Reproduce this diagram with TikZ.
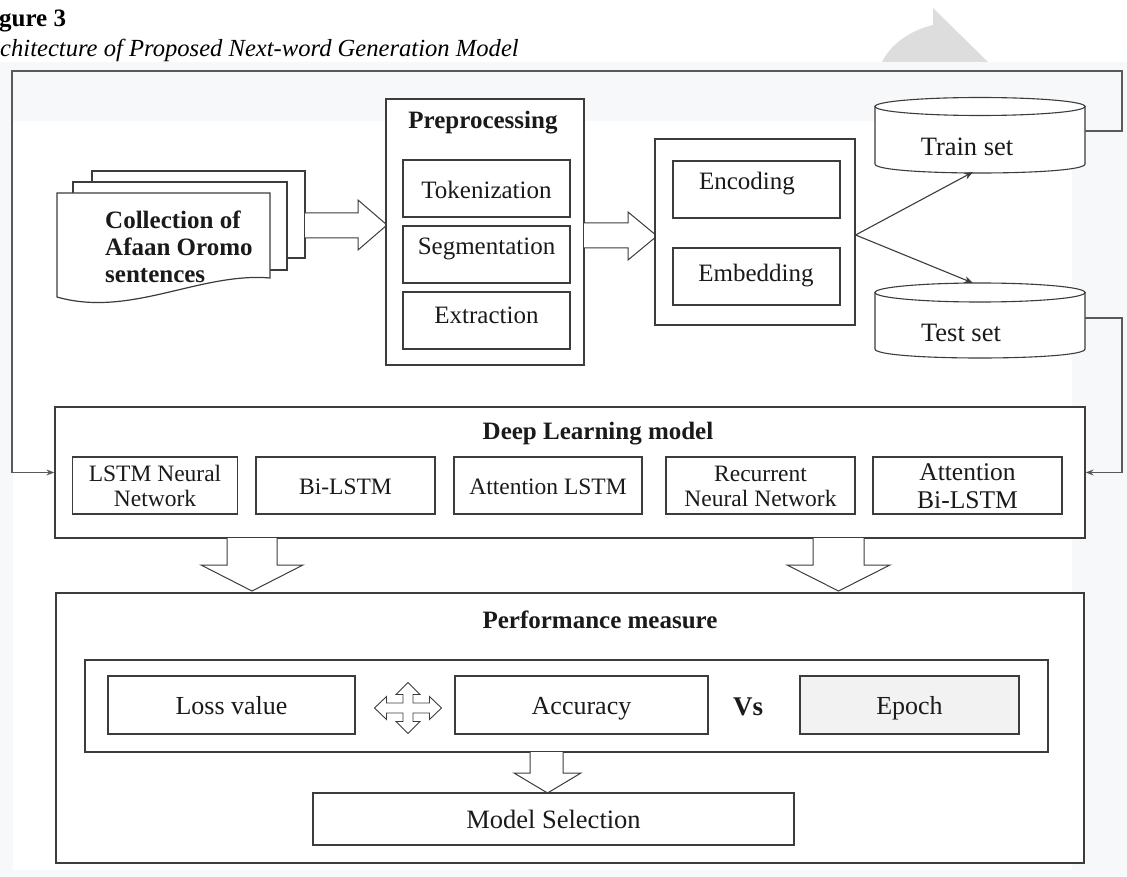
\documentclass[tikz,border=0pt]{standalone}
\usepackage{fontspec}
\setmainfont{Liberation Serif}
\usetikzlibrary{arrows.meta}
\definecolor{panel}{HTML}{F7F8FA}
\definecolor{ln}{HTML}{3C3C3C}
\definecolor{wm}{HTML}{DDDDDD}
\definecolor{epochfill}{HTML}{F2F2F2}
\definecolor{txt}{HTML}{1A1A1A}
\begin{document}
\begin{tikzpicture}[x=1pt,y=-1pt,
  box/.style={draw=ln, line width=1.2pt, fill=white, inner sep=0pt},
  lbl/.style={inner sep=0pt, text=txt, font=\fontsize{25}{27}\selectfont},
  bold/.style={inner sep=0pt, text=txt, font=\fontsize{25}{27}\selectfont\bfseries},
  small/.style={inner sep=0pt, text=txt, align=center, font=\fontsize{23.5}{25}\selectfont},
  big/.style={inner sep=0pt, text=txt, anchor=base, font=\fontsize{26}{28}\selectfont},
  barrow/.style={draw=ln, line width=1pt, fill=white, line join=miter},
  cyl/.style={draw=ln, line width=1.1pt, fill=white},
  conn/.style={draw=ln, line width=1.1pt, -{Stealth[length=9pt,width=7pt]}},
  fb/.style={draw=ln!85, line width=1.4pt, -{Stealth[length=8pt,width=6pt]}},
]
\useasboundingbox (0,0) rectangle (1127,877);
% watermark
\fill[wm] (933,8) -- (988,62) -- (882,62) .. controls (893,40) and (916,29) .. (933,25) -- cycle;
% panel background
\fill[panel] (0,62) rectangle (1127,877);
\fill[white] (13,121) rectangle (1072,870);

% titles
\node[anchor=base west, inner sep=0pt, text=black, font=\fontsize{25}{27}\selectfont\bfseries] (fig) at (-1,27) {gure 3};
\node[anchor=base west, inner sep=0pt, text=black, font=\fontsize{24.6}{27}\selectfont\itshape] (cap) at (0,57) {chitecture of Proposed Next-word Generation Model};

% document stack
\draw[ln, line width=1.2pt, fill=white] (92,171) rectangle (305,258);
\draw[ln, line width=1.2pt, fill=white] (73,182) rectangle (287,270);
\draw[ln, line width=1.2pt, fill=white] (57,193) -- (270,193) -- (270,278) .. controls (200,272) and (130,318) .. (57,297) -- cycle;
\node[bold, anchor=west, align=left] (doc) at (105,247) {Collection of\\Afaan Oromo\\sentences};

% block arrow 1
\draw[barrow] (305,213) -- (358,213) -- (358,200) -- (387,225) -- (358,250) -- (358,238) -- (305,238);

% preprocessing
\node[box, minimum width=198pt, minimum height=266pt] (prep) at (485,232) {};
\node[bold] (preptitle) at (483,123) {Preprocessing};
\node[box, minimum width=167pt, minimum height=57pt] (tok) at (486.5,188.5) {};
\node[lbl] (toktxt) at (486.5,190) {Tokenization};
\node[box, minimum width=167pt, minimum height=57pt] (seg) at (486.5,254.5) {};
\node[lbl] (segtxt) at (486.5,249) {Segmentation};
\node[box, minimum width=167pt, minimum height=57pt] (ext) at (486.5,320.5) {};
\node[lbl] (exttxt) at (486.5,315) {Extraction};

% block arrow 2
\draw[barrow] (584,223) -- (628,223) -- (628,212) -- (657,236) -- (628,260) -- (628,248) -- (584,248);

% encoding / embedding
\node[box, minimum width=200pt, minimum height=186pt] (encbox) at (755,232) {};
\node[box, minimum width=167pt, minimum height=57pt] (enc) at (756.5,189.5) {};
\node[lbl] (enctxt) at (747,184) {Encoding};
\node[box, minimum width=167pt, minimum height=57pt] (emb) at (756.5,276.5) {};
\node[lbl] (embtxt) at (756,276) {Embedding};

% cylinders
\draw[cyl] (875,106.5) -- (875,164) .. controls (875,176) and (1085,176) .. (1085,164) -- (1085,106.5) -- cycle;
\draw[cyl] (980,106.5) ellipse [x radius=105, y radius=9];
\node[lbl, font=\fontsize{26.5}{28}\selectfont] (train) at (967,147) {Train set};
\draw[cyl] (875,292.5) -- (875,349) .. controls (875,361) and (1085,361) .. (1085,349) -- (1085,292.5) -- cycle;
\draw[cyl] (980,292.5) ellipse [x radius=105, y radius=9.5];
\node[lbl, font=\fontsize{26.5}{28}\selectfont] (test) at (961,333) {Test set};

\coordinate (trainB) at (973,172);
\coordinate (testT) at (973,283);
\coordinate (trainR) at (1085,131);
\coordinate (testR) at (1085,318);
\coordinate (railR) at (1122,71);
\coordinate (railL) at (12,71);

\draw[conn] ([yshift=-3pt]encbox.east) -- (trainB);
\draw[conn] ([yshift=-3pt]encbox.east) -- (testT);

% deep learning model
\node[box, minimum width=1030pt, minimum height=131pt] (deep) at (570,472.5) {};
\node[bold] (deeptitle) at (598,434) {Deep Learning model};
\node[box, minimum width=165pt, minimum height=57pt] (lstm) at (155,485.5) {};
\node[small] (lstmtxt) at (155,486) {LSTM Neural\\Network};
\node[box, minimum width=179pt, minimum height=57pt] (bilstm) at (345.5,485.5) {};
\node[small] (bilstmtxt) at (345.5,487) {Bi-LSTM};
\node[box, minimum width=188pt, minimum height=57pt] (attlstm) at (548,485.5) {};
\node[small] (attlstmtxt) at (548,487) {Attention LSTM};
\node[box, minimum width=189pt, minimum height=57pt] (rnn) at (760.5,485.5) {};
\node[small] (rnntxt) at (760.5,486) {Recurrent\\Neural Network};
\node[box, minimum width=189pt, minimum height=57pt] (attbi) at (967.5,485.5) {};
\node[small, font=\fontsize{25.5}{27.5}\selectfont] (attbitxt) at (967.5,486) {Attention\\Bi-LSTM};

% feedback connectors
\draw[fb] (trainR) -| (railR) -- (railL) |- (deep.west);
\draw[fb] (testR) -- ++(37,0) |- (deep.east);

% block arrows down
\draw[barrow] (227,538) -- (227,565) -- (201,565) -- (252,591) -- (303,565) -- (277,565) -- (277,538);
\draw[barrow] (813,538) -- (813,565) -- (787,565) -- (838.5,591) -- (890,565) -- (864,565) -- (864,538);

% performance measure
\node[box, minimum width=1028pt, minimum height=270pt] (perf) at (570,728) {};
\node[bold] (perftitle) at (600,620) {Performance measure};
\node[box, minimum width=963pt, minimum height=92pt] (inner) at (566.5,706) {};
\node[box, minimum width=247pt, minimum height=58pt] (loss) at (231.5,705) {};
\node[big] (losstxt) at (231.5,714) {Loss value};
\node[box, minimum width=253pt, minimum height=58pt] (acc) at (581.5,705) {};
\node[big] (acctxt) at (581.5,714) {Accuracy};
\node[box, fill=epochfill, minimum width=219pt, minimum height=58pt] (epoch) at (909.5,705) {};
\node[big] (epochtxt) at (909.5,714) {Epoch};
\node[inner sep=0pt, text=txt, anchor=base, font=\fontsize{27}{29}\selectfont\bfseries] (vs) at (748,715) {Vs};

% four-way arrow
\draw[barrow, line width=0.9pt] (408,682.5) -- (420,694.5) -- (413,694.5) -- (413,703) -- (429.5,703) -- (429.5,696.5)
  -- (441.5,708) -- (429.5,719.5) -- (429.5,713) -- (413,713) -- (413,721.5) -- (420,721.5)
  -- (408,733.5) -- (396,721.5) -- (403,721.5) -- (403,713) -- (386.5,713) -- (386.5,719.5)
  -- (374.5,708) -- (386.5,696.5) -- (386.5,703) -- (403,703) -- (403,694.5) -- (396,694.5) -- cycle;

% arrow to model selection
\draw[barrow] (530,752) -- (530,773) -- (514,773) -- (547.5,793) -- (581,773) -- (563,773) -- (563,752);
\node[box, minimum width=481pt, minimum height=52pt] (msel) at (553.5,819) {};
\node[big, font=\fontsize{26.5}{28}\selectfont] (mseltxt) at (553.5,828) {Model Selection};
\end{tikzpicture}
\end{document}
